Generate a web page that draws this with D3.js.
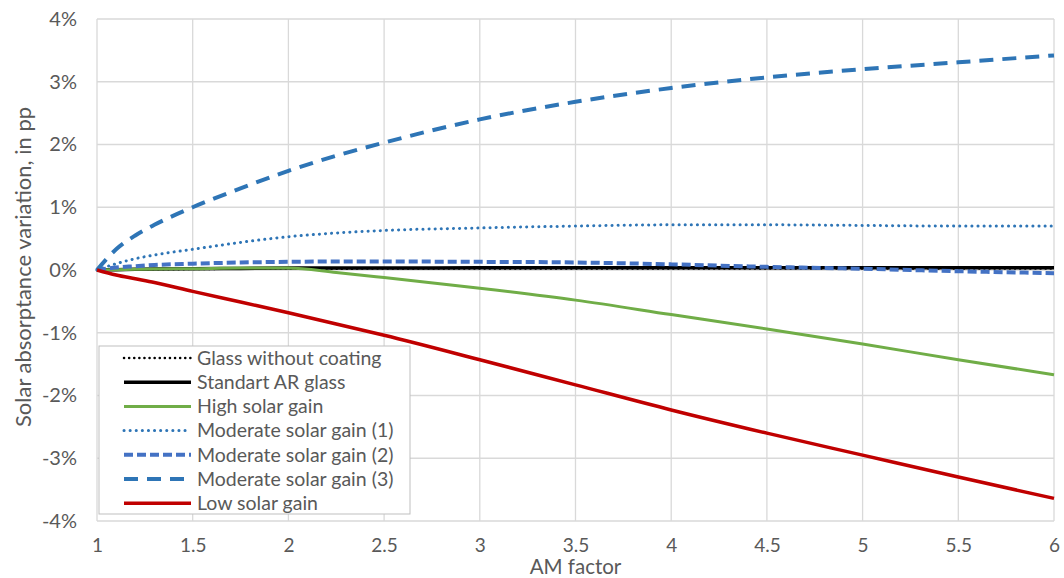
<!DOCTYPE html>
<html>
<head>
<meta charset="utf-8">
<script src="https://cdn.jsdelivr.net/npm/d3@7"></script>
<style>
  body { margin: 0; background: #fff; }
  svg { font-family: Lato, "Open Sans", sans-serif; }
</style>
</head>
<body>
<div id="chart"></div>
<script>
// AM factor sample points (shared by all series)
const amFactor = [1, 1.1, 1.2, 1.3, 1.5, 1.75, 2, 2.25, 2.5, 3, 3.5, 4, 4.5, 5, 5.5, 6];

// solar absorptance variation, in pp (%)
const glassNoCoating = [0, 0.005, 0.01, 0.01, 0.015, 0.02, 0.02, 0.02, 0.025, 0.025, 0.025, 0.025, 0.025, 0.025, 0.025, 0.025];
const standartAR = [0, 0.005, 0.01, 0.015, 0.02, 0.025, 0.03, 0.03, 0.03, 0.035, 0.035, 0.035, 0.035, 0.035, 0.035, 0.035];
const highGain = [0, 0.005, 0.01, 0.015, 0.02, 0.03, 0.03, -0.04, -0.12, -0.29, -0.48, -0.71, -0.94, -1.18, -1.43, -1.67];
const moderate1 = [0, 0.1, 0.18, 0.24, 0.33, 0.44, 0.53, 0.59, 0.63, 0.67, 0.70, 0.72, 0.72, 0.71, 0.70, 0.70];
const moderate2 = [0, 0.04, 0.06, 0.08, 0.10, 0.12, 0.13, 0.135, 0.135, 0.13, 0.12, 0.09, 0.05, 0.02, -0.02, -0.05];
const moderate3 = [0, 0.33, 0.55, 0.72, 1.0, 1.3, 1.58, 1.82, 2.03, 2.4, 2.68, 2.9, 3.07, 3.2, 3.31, 3.42];
const lowGain = [0, -0.08, -0.14, -0.2, -0.34, -0.51, -0.68, -0.86, -1.04, -1.43, -1.83, -2.23, -2.6, -2.95, -3.3, -3.64];

const seriesNames = ['Glass without coating', 'Standart AR glass', 'High solar gain',
  'Moderate solar gain (1)', 'Moderate solar gain (2)', 'Moderate solar gain (3)', 'Low solar gain'];

const xTicks = [1, 1.5, 2, 2.5, 3, 3.5, 4, 4.5, 5, 5.5, 6];
const yTicks = [-4, -3, -2, -1, 0, 1, 2, 3, 4];

// line styles per series
const styles = [
  {color: '#000000', width: 2.5, dash: '0.1 5', cap: 'round'},
  {color: '#000000', width: 3.5, dash: null, cap: 'butt'},
  {color: '#70AD47', width: 3, dash: null, cap: 'butt'},
  {color: '#2E75B6', width: 3, dash: '0.1 6', cap: 'round'},
  {color: '#4472C4', width: 4, dash: '9 4', cap: 'butt'},
  {color: '#2E75B6', width: 4, dash: '14 9', cap: 'butt'},
  {color: '#C00000', width: 3.5, dash: null, cap: 'butt'}
];

const seriesValues = [glassNoCoating, standartAR, highGain, moderate1, moderate2, moderate3, lowGain];
const series = seriesNames.map((name, i) => ({
  name: name,
  style: styles[i],
  points: amFactor.map((x, j) => ({x: x, y: seriesValues[i][j]}))
}));

const config = {
  width: 1064, height: 578,
  margin: {top: 19, right: 10, bottom: 57, left: 97}
};
const innerW = config.width - config.margin.left - config.margin.right;
const innerH = config.height - config.margin.top - config.margin.bottom;

const svg = d3.select('#chart').append('svg')
    .attr('width', config.width)
    .attr('height', config.height);

const chart = svg.append('g')
    .attr('transform', `translate(${config.margin.left},${config.margin.top})`);

const x = d3.scaleLinear().domain([1, 6]).range([0, innerW]);
const y = d3.scaleLinear().domain([-4, 4]).range([innerH, 0]);

// gridlines
chart.append('g')
    .selectAll('line.h')
    .data(yTicks)
  .join('line')
    .attr('x1', 0).attr('x2', innerW)
    .attr('y1', d => y(d)).attr('y2', d => y(d))
    .attr('stroke', '#D9D9D9').attr('stroke-width', 1.3);

chart.append('g')
    .selectAll('line.v')
    .data(xTicks)
  .join('line')
    .attr('x1', d => x(d)).attr('x2', d => x(d))
    .attr('y1', 0).attr('y2', innerH)
    .attr('stroke', '#D9D9D9').attr('stroke-width', 1.3);

// axes (labels only)
const yAxis = chart.append('g')
    .call(d3.axisLeft(y).tickValues(yTicks).tickSize(0).tickPadding(20).tickFormat(d => d + '%'));
const xAxis = chart.append('g')
    .attr('transform', `translate(0,${innerH})`)
    .call(d3.axisBottom(x).tickValues(xTicks).tickSize(0).tickPadding(17.5).tickFormat(d3.format('')));
[xAxis, yAxis].forEach(a => {
  a.select('.domain').remove();
  a.selectAll('text').attr('fill', '#595959').style('font-size', '19px').style('font-family', 'Lato, sans-serif');
});
yAxis.selectAll('text').style('font-size', '20px');

// titles
svg.append('text')
    .attr('x', config.margin.left + innerW / 2)
    .attr('y', 574)
    .attr('text-anchor', 'middle')
    .attr('fill', '#595959')
    .style('font-size', '20.5px')
    .text('AM factor');

svg.append('text')
    .attr('transform', `translate(31,${config.margin.top + innerH / 2 - 3}) rotate(-90)`)
    .attr('text-anchor', 'middle')
    .attr('fill', '#595959')
    .style('font-size', '22px')
    .text('Solar absorptance variation, in pp');

// series lines
const line = d3.line()
    .x(d => x(d.x))
    .y(d => y(d.y))
    .curve(d3.curveMonotoneX);

chart.selectAll('.series')
    .data(series)
  .join('path')
    .attr('class', 'series')
    .attr('d', d => line(d.points))
    .attr('fill', 'none')
    .attr('stroke', d => d.style.color)
    .attr('stroke-width', d => d.style.width)
    .attr('stroke-dasharray', d => d.style.dash)
    .attr('stroke-linecap', d => d.style.cap);

// legend
const legend = svg.append('g').attr('transform', 'translate(99,346)');
legend.append('rect')
    .attr('width', 311).attr('height', 168)
    .attr('fill', '#fff')
    .attr('stroke', '#BFBFBF').attr('stroke-width', 1);

const rows = legend.selectAll('.row')
    .data(series)
  .join('g')
    .attr('class', 'row')
    .attr('transform', (d, i) => `translate(0,${12 + i * 24.2})`);

rows.append('line')
    .attr('x1', 25).attr('x2', 92)
    .attr('stroke', d => d.style.color)
    .attr('stroke-width', d => d.style.width)
    .attr('stroke-dasharray', d => d.style.dash)
    .attr('stroke-linecap', d => d.style.cap);

rows.append('text')
    .attr('x', 98)
    .attr('dy', '0.35em')
    .attr('fill', '#595959')
    .style('font-size', '19.5px')
    .text(d => d.name);
</script>
</body>
</html>
